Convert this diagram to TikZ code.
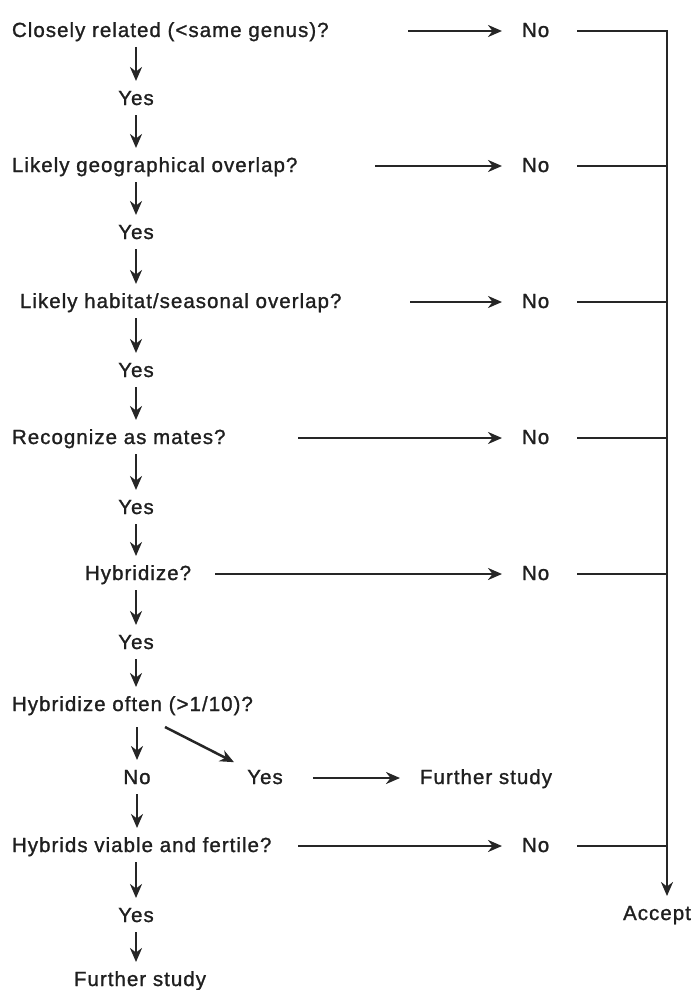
\documentclass[tikz,border=0pt]{standalone}
\usepackage{fontspec}
\setmainfont{Liberation Sans}[LetterSpace=5, FakeBold=1.2]
\usetikzlibrary{arrows.meta}
\begin{document}
\begin{tikzpicture}[x=1pt,y=-1pt,
  txt/.style={font=\fontsize{20.5}{24}\selectfont, text=black!88, inner sep=0pt, outer sep=0pt, text height=15pt, text depth=3pt},
  lft/.style={txt, anchor=base west},
  ctr/.style={txt, anchor=base},
  ln/.style={line width=2.5pt, draw=black!85},
  tip/.style={-{Stealth[length=14pt,width=12pt,inset=4.5pt]}},
  varr/.style={ln, tip, shorten <=7pt, shorten >=9pt},
  harr/.style={ln, tip, shorten >=20pt},
  noline/.style={ln, shorten <=28pt}]
\useasboundingbox (0,0) rectangle (694,990);

% left column
\node[lft] (q1) at (12,37) {Closely related (<same genus)?};
\node[ctr] (y1) at (136,105) {Yes};
\node[lft] (q2) at (12,172) {Likely geographical overlap?};
\node[ctr] (y2) at (136,239) {Yes};
\node[lft] (q3) at (20,308) {Likely habitat/seasonal overlap?};
\node[ctr] (y3) at (136,377) {Yes};
\node[lft] (q4) at (12,444) {Recognize as mates?};
\node[ctr] (y4) at (136,514) {Yes};
\node[lft] (q5) at (85,580) {Hybridize?};
\node[ctr] (y5) at (136,649) {Yes};
\node[lft] (q6) at (12,711) {Hybridize often (>1/10)?};
\node[ctr] (n6) at (137,784) {No};
\node[ctr] (y6) at (265,784) {Yes};
\node[lft] (fs1) at (420,784) {Further study};
\node[lft] (q7) at (12,852) {Hybrids viable and fertile?};
\node[ctr] (y7) at (136,922) {Yes};
\node[ctr] (fs2) at (140,986) {Further study};

% No column
\node[lft] (no1) at (522,37) {No};
\node[lft] (no2) at (522,172) {No};
\node[lft] (no3) at (522,308) {No};
\node[lft] (no4) at (522,444) {No};
\node[lft] (no5) at (522,580) {No};
\node[lft] (no7) at (522,852) {No};
\node[ctr] (acc) at (657,920) {Accept};

% vertical chain
\draw[varr] (q1.south -| y1) -- (y1);
\draw[varr] (y1) -- (q2.north -| y1);
\draw[varr] (q2.south -| y2) -- (y2);
\draw[varr] (y2) -- (q3.north -| y2);
\draw[varr] (q3.south -| y3) -- (y3);
\draw[varr] (y3) -- (q4.north -| y3);
\draw[varr] (q4.south -| y4) -- (y4);
\draw[varr] (y4) -- (q5.north -| y4);
\draw[varr] (q5.south -| y5) -- (y5);
\draw[varr] (y5) -- (q6.north -| y5);
\draw[varr, shorten <=13pt] (q6.south -| n6) -- (n6);
\draw[varr] (n6) -- (q7.north -| n6);
\draw[varr] (q7.south -| y7) -- (y7);
\draw[varr] (y7) -- (fs2.north -| y7);

% horizontal arrows to No
\coordinate (s1) at (408,31);
\coordinate (s2) at (375,166);
\coordinate (s3) at (410,302);
\coordinate (s4) at (298,438);
\coordinate (s5) at (215,574);
\coordinate (s7) at (298,846);
\draw[harr] (s1) -- (no1.west);
\draw[harr] (s2) -- (no2.west);
\draw[harr] (s3) -- (no3.west);
\draw[harr] (s4) -- (no4.west);
\draw[harr] (s5) -- (no5.west);
\draw[harr] (s7) -- (no7.west);

% hybridize often -> yes -> further study
\coordinate (d1) at (165,727);
\draw[ln, tip, shorten >=15pt] (d1) -- (y6);
\draw[ln, tip, shorten <=30pt, shorten >=20pt] (y6.east) -- (fs1.west);

% No lines to Accept
\coordinate (j1) at (667,31);
\draw[ln, tip, shorten <=28pt, shorten >=9pt, line join=miter] (no1.east) -- (j1) -- (acc.north -| j1);
\draw[noline] (no2.east) -- (no2.east -| j1);
\draw[noline] (no3.east) -- (no3.east -| j1);
\draw[noline] (no4.east) -- (no4.east -| j1);
\draw[noline] (no5.east) -- (no5.east -| j1);
\draw[noline] (no7.east) -- (no7.east -| j1);
\end{tikzpicture}
\end{document}
